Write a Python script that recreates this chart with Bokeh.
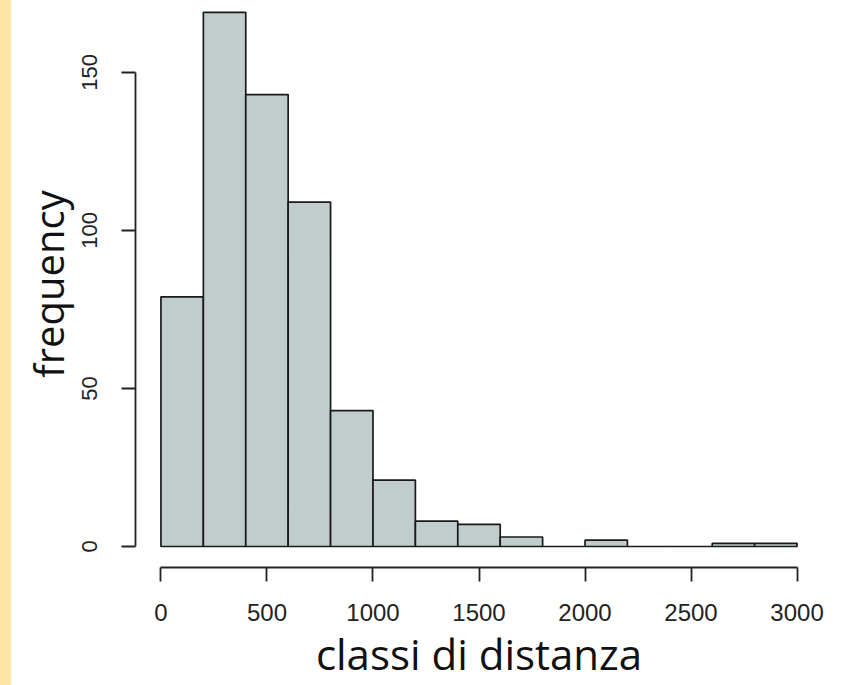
from bokeh.plotting import figure
from bokeh.models import Range1d, FixedTicker, Div
from bokeh.layouts import row
from bokeh.embed import file_html
from bokeh.resources import INLINE

# ---- data (histogram of distances) ----
bin_edges = [0, 200, 400, 600, 800, 1000, 1200, 1400, 1600, 1800, 2000,
             2200, 2400, 2600, 2800, 3000]
counts = [79, 169, 143, 109, 43, 21, 8, 7, 3, 0, 2, 0, 0, 1, 1]
x_ticks = [0, 500, 1000, 1500, 2000, 2500, 3000]
y_ticks = [0, 50, 100, 150]
x_title = "classi di distanza"
y_title = "frequency"

p = figure(width=834, height=685, output_backend="svg", toolbar_location=None,
           x_range=Range1d(-120, 3120), y_range=Range1d(-6.65, 172.78),
           min_border_left=124, min_border_right=23, min_border_top=0,
           min_border_bottom=118)
p.outline_line_color = None
p.grid.visible = False
p.background_fill_color = "white"
p.border_fill_color = "white"

p.quad(left=bin_edges[:-1], right=bin_edges[1:], top=counts, bottom=0,
       fill_color="#C1CDCD", line_color="#1a1a1a", line_width=1.7)

for ax, ticks in ((p.xaxis[0], x_ticks), (p.yaxis[0], y_ticks)):
    ax.ticker = FixedTicker(ticks=ticks)
    ax.bounds = (ticks[0], ticks[-1])
    ax.axis_line_color = "#222222"
    ax.axis_line_width = 1.8
    ax.major_tick_line_color = "#222222"
    ax.major_tick_line_width = 1.8
    ax.major_tick_out = 14
    ax.major_tick_in = 0
    ax.minor_tick_line_color = None
    ax.major_label_text_font = "Liberation Sans"
    ax.major_label_text_color = "#222222"
    ax.axis_label_text_font = "Open Sans"
    ax.axis_label_text_font_style = "normal"
    ax.axis_label_text_color = "#111111"

p.xaxis.axis_label = x_title
p.yaxis.axis_label = y_title
p.xaxis.axis_label_text_font_size = "42px"
p.yaxis.axis_label_text_font_size = "40px"
p.xaxis.axis_label_standoff = 1
p.yaxis.axis_label_standoff = 4
p.xaxis.major_label_text_font_size = "24px"
p.xaxis.major_label_standoff = 22
p.yaxis.major_label_text_font_size = "22px"
p.yaxis.major_label_orientation = "parallel"
p.yaxis.major_label_standoff = 24

strip = Div(width=11, height=685, margin=0,
            styles={"background-color": "#FFE6A3"})

layout = row(strip, p, spacing=0)
open("out.html", "w").write(file_html(layout, INLINE))
